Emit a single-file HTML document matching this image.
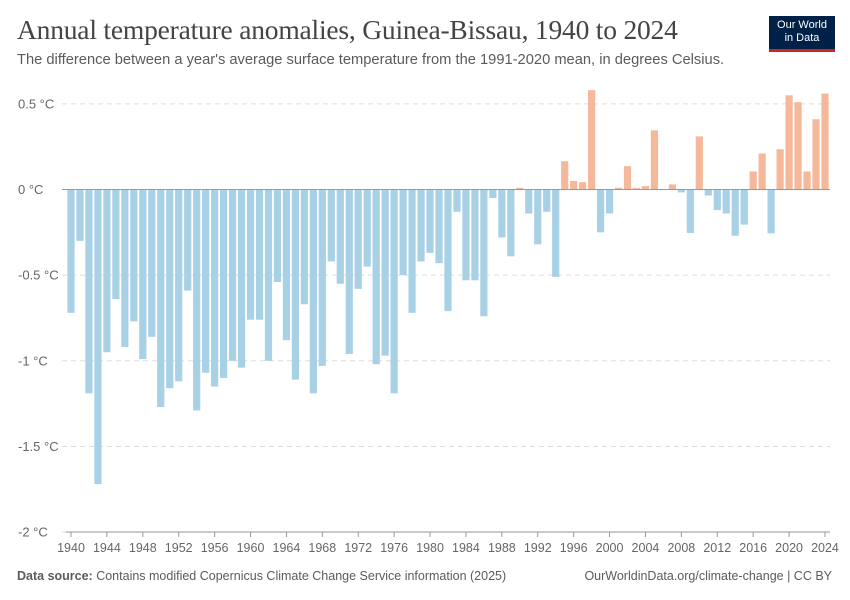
<!DOCTYPE html>
<html><head><meta charset="utf-8"><style>
body{margin:0;background:#fff;font-family:"Liberation Sans",sans-serif;}
#wrap{position:relative;width:850px;height:600px;overflow:hidden;}
.title{position:absolute;left:17px;top:14px;font-family:"Liberation Serif",serif;font-size:27.5px;color:#444;letter-spacing:-0.2px;}
.sub{position:absolute;left:17px;top:52px;font-size:14.7px;color:#5b5b5b;}
.logo{position:absolute;left:769px;top:16px;width:66px;height:36px;background:#002147;color:#fff;font-size:11px;text-align:center;line-height:13px;padding-top:3px;box-sizing:border-box;border-bottom:3px solid #ce261e;}
.foot{position:absolute;top:569px;font-size:12.5px;color:#5b5b5b;}
</style></head><body>
<div id="wrap">
<div class="title">Annual temperature anomalies, Guinea-Bissau, 1940 to 2024</div>
<div class="sub">The difference between a year's average surface temperature from the 1991-2020 mean, in degrees Celsius.</div>
<div class="logo">Our World<br>in Data</div>
<svg id="svg" width="850" height="600" style="position:absolute;left:0;top:0"></svg>
<div class="foot" style="left:17px"><b>Data source:</b> Contains modified Copernicus Climate Change Service information (2025)</div>
<div class="foot" style="right:18px">OurWorldinData.org/climate-change | CC BY</div>
</div>
<script>
const years=[];for(let y=1940;y<=2024;y++)years.push(y);
const values=[-0.72,-0.30,-1.19,-1.72,-0.95,-0.64,-0.92,-0.77,-0.99,-0.86,
-1.27,-1.16,-1.12,-0.59,-1.29,-1.07,-1.15,-1.10,-1.00,-1.04,
-0.76,-0.76,-1.00,-0.54,-0.88,-1.11,-0.67,-1.19,-1.03,-0.42,
-0.55,-0.96,-0.58,-0.45,-1.02,-0.97,-1.19,-0.50,-0.72,-0.42,
-0.37,-0.43,-0.71,-0.13,-0.53,-0.53,-0.74,-0.05,-0.28,-0.39,
0.01,-0.14,-0.32,-0.13,-0.51,0.165,0.05,0.043,0.58,-0.25,
-0.14,0.01,0.136,0.008,0.02,0.345,0,0.03,-0.017,-0.254,
0.31,-0.035,-0.12,-0.14,-0.27,-0.205,0.105,0.21,-0.256,0.235,
0.55,0.51,0.105,0.41,0.56];
const yTicks=[0.5,0,-0.5,-1,-1.5,-2];
const yTickLabels=["0.5 °C","0 °C","-0.5 °C","-1 °C","-1.5 °C","-2 °C"];
const xTicks=[1940,1944,1948,1952,1956,1960,1964,1968,1972,1976,1980,1984,1988,1992,1996,2000,2004,2008,2012,2016,2020,2024];
const NS="http://www.w3.org/2000/svg",svg=document.getElementById('svg');
const y0=189.5,k=171.3;
const yS=v=>y0-v*k;
const xS=yr=>71+(yr-1940)*8.976;
function el(t,a){const e=document.createElementNS(NS,t);for(const q in a)e.setAttribute(q,a[q]);svg.appendChild(e);return e;}
yTicks.forEach((v,i)=>{
 if(v!==0){const g=el('line',{x1:62,x2:830,y1:yS(v),y2:yS(v),stroke:'#ddd','stroke-dasharray':'5,4'});
 
 }
 const t=el('text',{x:18,y:yS(v)+4.5,'font-size':13,fill:'#666'});t.textContent=yTickLabels[i];
 
 
});
years.forEach((yr,i)=>{
 const v=values[i];const top=v>=0?yS(v):y0;const h=Math.abs(v)*k;
 const r=el('rect',{x:xS(yr)-3.6,y:top,width:7.2,height:Math.max(h,0.5),fill:v>=0?'#f6b89a':'#a9d1e5'});
 
 
});
const ax=el('line',{x1:62,x2:830,y1:y0,y2:y0,stroke:'#999','stroke-width':1});


const bx=el('line',{x1:66,x2:830,y1:532,y2:532,stroke:'#999'});


xTicks.forEach(yr=>{
 const tk=el('line',{x1:xS(yr),x2:xS(yr),y1:532,y2:537,stroke:'#999'});
 
 
 const t=el('text',{x:xS(yr),y:552,'font-size':12.5,fill:'#666','text-anchor':'middle'});t.textContent=yr;
 
 
});
</script>
</body></html>
